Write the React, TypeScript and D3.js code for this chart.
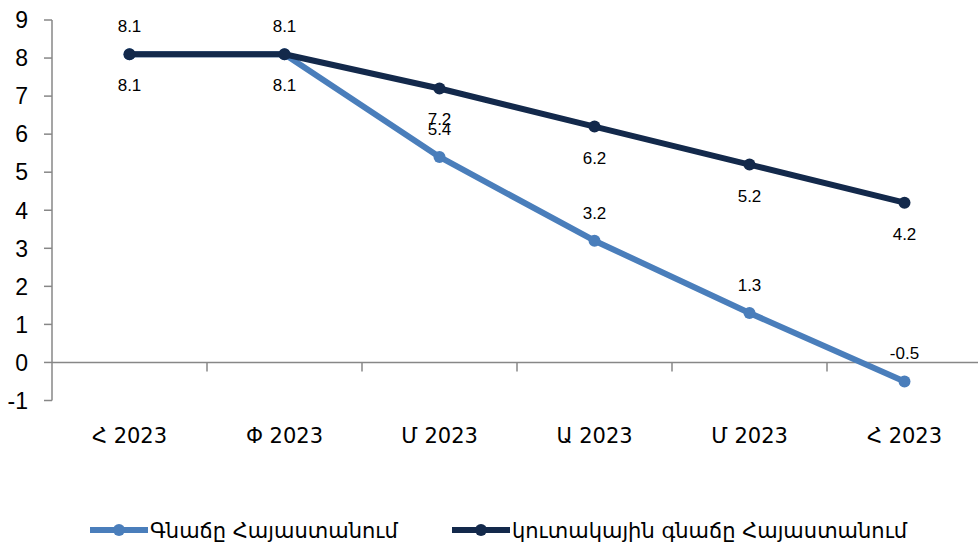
import React from "react";
import * as d3 from "d3";

const categories = ["Հ 2023", "Փ 2023", "Մ 2023", "Ա 2023", "Մ 2023", "Հ 2023"];
const seriesNames = ["Գնաճը Հայաստանում", "կուտակային գնաճը Հայաստանում"];
const inflation = [8.1, 8.1, 5.4, 3.2, 1.3, -0.5];
const cumulative = [8.1, 8.1, 7.2, 6.2, 5.2, 4.2];
const inflationLabelPos = ["below", "below", "above", "above", "above", "above"];
const cumulativeLabelPos = ["above", "above", "below", "below", "below", "below"];
const yTicks = [-1, 0, 1, 2, 3, 4, 5, 6, 7, 8, 9];

const W = 978;
const H = 543;
const BLUE = "#4A7EBB";
const DARK = "#13294B";
const AXIS = "#878787";
const ARM_FONT = "'DejaVu Sans', sans-serif";
const NUM_FONT = "'Liberation Sans', Arial, sans-serif";

export default function App() {
  const x = d3.scaleBand<number>().domain(d3.range(categories.length)).range([52, 982]).padding(0);
  const y = d3.scaleLinear().domain([-1, 9]).range([400.5, 20]);
  const cx = (i: number) => (x(i) as number) + x.bandwidth() / 2;
  const line = d3
    .line<number>()
    .x((_, i) => cx(i))
    .y((d) => y(d));

  const series = [
    { name: seriesNames[0], values: inflation, color: BLUE, pos: inflationLabelPos },
    { name: seriesNames[1], values: cumulative, color: DARK, pos: cumulativeLabelPos },
  ];

  const legendItems = [
    { x0: 90, color: BLUE, name: seriesNames[0] },
    { x0: 452, color: DARK, name: seriesNames[1] },
  ];

  return (
    <svg
      width={W}
      height={H}
      style={{ position: "absolute", left: 0, top: 0, background: "#fff" }}
    >
      {/* y axis */}
      <line x1={52} x2={52} y1={y(9)} y2={y(-1)} stroke={AXIS} strokeWidth={1.5} />
      {yTicks.map((t) => (
        <g key={t}>
          <line x1={44} x2={52} y1={y(t)} y2={y(t)} stroke={AXIS} strokeWidth={1.5} />
          <text
            x={28}
            y={y(t)}
            dy="0.36em"
            textAnchor="end"
            fontFamily={NUM_FONT}
            fontSize={23}
            fill="#000"
          >
            {t}
          </text>
        </g>
      ))}
      {/* x axis at zero */}
      <line x1={52} x2={W} y1={y(0)} y2={y(0)} stroke={AXIS} strokeWidth={1.5} />
      {d3.range(1, categories.length).map((i) => (
        <line
          key={i}
          x1={x(i) as number}
          x2={x(i) as number}
          y1={y(0)}
          y2={y(0) + 9}
          stroke={AXIS}
          strokeWidth={1.5}
        />
      ))}
      {categories.map((c, i) => (
        <text
          key={i}
          x={cx(i)}
          y={443}
          textAnchor="middle"
          fontFamily={ARM_FONT}
          fontSize={21}
          fill="#000"
        >
          {c}
        </text>
      ))}

      {/* series */}
      {series.map((s) => (
        <g key={s.name}>
          <path d={line(s.values) || ""} fill="none" stroke={s.color} strokeWidth={6} strokeLinejoin="round" />
          {s.values.map((v, i) => (
            <circle key={i} cx={cx(i)} cy={y(v)} r={6} fill={s.color} />
          ))}
        </g>
      ))}
      {series.map((s) =>
        s.values.map((v, i) => (
          <text
            key={s.name + i}
            x={cx(i)}
            y={s.pos[i] === "above" ? y(v) - 22 : y(v) + 37}
            textAnchor="middle"
            fontFamily={NUM_FONT}
            fontSize={17}
            fill="#000"
          >
            {v.toFixed(1)}
          </text>
        ))
      )}

      {/* legend */}
      {legendItems.map((l) => (
        <g key={l.name}>
          <line x1={l.x0} x2={l.x0 + 58} y1={530} y2={530} stroke={l.color} strokeWidth={6} />
          <circle cx={l.x0 + 29} cy={530} r={6} fill={l.color} />
          <text x={l.x0 + 60} y={538} fontFamily={ARM_FONT} fontSize={21} fill="#000">
            {l.name}
          </text>
        </g>
      ))}
    </svg>
  );
}
